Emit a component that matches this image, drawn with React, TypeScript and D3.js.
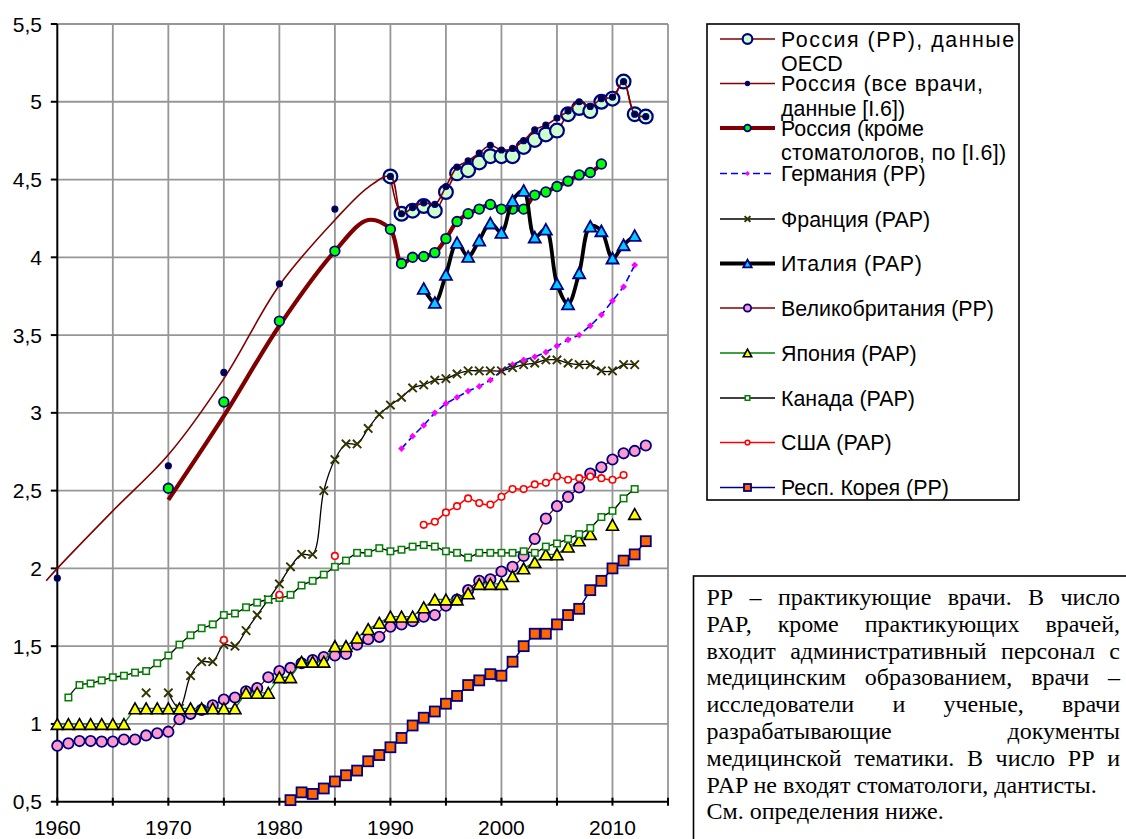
import React, { useMemo } from 'react';
import * as d3 from 'd3';

// ---------------- DATA ----------------
const xTickYears = [1960, 1970, 1980, 1990, 2000, 2010];
const yTickValues = [0.5, 1, 1.5, 2, 2.5, 3, 3.5, 4, 4.5, 5, 5.5];

// Russia (PP), OECD data
const ruOecdYears = d3.range(1990, 2014);
const ruOecdValues = [4.52, 4.28, 4.30, 4.33, 4.30, 4.42, 4.54, 4.56, 4.61, 4.65, 4.65, 4.65, 4.71, 4.755, 4.79, 4.815, 4.92, 4.96, 4.94, 5.0, 5.02, 5.13, 4.92, 4.905];

// Russia (all doctors, [I.6])
const ruAllYears = [1960, 1970, 1975, 1980, 1985, ...d3.range(1990, 2014)];
const ruAllValues = [1.937, 2.66, 3.26, 3.83, 4.31, 4.52, 4.28, 4.32, 4.35, 4.34, 4.455, 4.58, 4.62, 4.67, 4.72, 4.69, 4.70, 4.75, 4.82, 4.85, 4.895, 4.94, 5.0, 4.97, 5.02, 5.03, 5.13, 4.92, 4.905];
// smoothed trend line of all doctors before 1990
const ruAllTrendYears = [1959, 1960, 1965, 1970, 1975, 1980, 1985, 1988];
const ruAllTrendValues = [1.92, 2.0, 2.37, 2.73, 3.22, 3.82, 4.24, 4.45];

// Russia (excluding dentists, [I.6])
const ruExYears = [1970, 1975, 1980, 1985, ...d3.range(1990, 2010)];
const ruExValues = [2.515, 3.07, 3.59, 4.04, 4.18, 3.96, 4.00, 4.005, 4.03, 4.12, 4.23, 4.28, 4.31, 4.34, 4.31, 4.31, 4.31, 4.40, 4.42, 4.455, 4.49, 4.53, 4.545, 4.60];
const ruExTrendYears = [1970, 1975, 1980, 1985, 1988];
const ruExTrendValues = [2.44, 2.98, 3.56, 4.04, 4.24];

// Germany (PP)
const deYears = d3.range(1991, 2013);
const deValues = [2.77, 2.85, 2.92, 3.0, 3.06, 3.10, 3.14, 3.17, 3.21, 3.27, 3.31, 3.34, 3.36, 3.39, 3.43, 3.47, 3.50, 3.56, 3.63, 3.72, 3.81, 3.95];

// France (PAP)
const frYears = [1968, ...d3.range(1970, 2013)];
const frValues = [1.20, 1.20, 1.10, 1.31, 1.40, 1.40, 1.51, 1.50, 1.60, 1.70, 1.80, 1.90, 2.01, 2.09, 2.09, 2.50, 2.70, 2.80, 2.80, 2.90, 2.99, 3.05, 3.10, 3.16, 3.18, 3.21, 3.22, 3.25, 3.27, 3.27, 3.27, 3.27, 3.29, 3.31, 3.32, 3.34, 3.34, 3.32, 3.31, 3.31, 3.27, 3.27, 3.31, 3.31];

// Italy (PAP)
const itYears = d3.range(1993, 2013);
const itValues = [3.80, 3.71, 3.89, 4.095, 4.005, 4.11, 4.22, 4.16, 4.365, 4.43, 4.13, 4.18, 3.83, 3.70, 3.90, 4.20, 4.17, 3.995, 4.08, 4.14];

// United Kingdom (PP)
const ukYears = d3.range(1960, 2014);
const ukValues = [0.86, 0.875, 0.89, 0.89, 0.886, 0.886, 0.90, 0.90, 0.926, 0.94, 0.95, 1.03, 1.065, 1.09, 1.12, 1.157, 1.17, 1.21, 1.23, 1.30, 1.34, 1.36, 1.39, 1.41, 1.43, 1.44, 1.45, 1.51, 1.545, 1.56, 1.625, 1.64, 1.66, 1.69, 1.70, 1.76, 1.80, 1.86, 1.92, 1.93, 1.98, 2.01, 2.08, 2.19, 2.32, 2.40, 2.46, 2.52, 2.61, 2.65, 2.70, 2.74, 2.755, 2.79];

// Japan (PAP)
const jpYears = [...d3.range(1960, 2009), 2010, 2012];
const jpValues = [1.0, 1.0, 1.0, 1.0, 1.0, 1.0, 1.0, 1.1, 1.1, 1.1, 1.1, 1.1, 1.1, 1.1, 1.1, 1.1, 1.1, 1.2, 1.2, 1.2, 1.3, 1.3, 1.4, 1.4, 1.4, 1.5, 1.5, 1.555, 1.61, 1.65, 1.69, 1.69, 1.69, 1.75, 1.80, 1.80, 1.80, 1.84, 1.90, 1.90, 1.90, 1.95, 2.00, 2.04, 2.09, 2.09, 2.14, 2.18, 2.22, 2.28, 2.35];

// Canada (PAP)
const caYears = d3.range(1961, 2013);
const caValues = [1.17, 1.25, 1.26, 1.28, 1.30, 1.31, 1.33, 1.34, 1.39, 1.44, 1.51, 1.57, 1.615, 1.64, 1.70, 1.71, 1.75, 1.78, 1.80, 1.81, 1.83, 1.89, 1.92, 1.96, 2.01, 2.05, 2.10, 2.10, 2.13, 2.11, 2.12, 2.14, 2.15, 2.14, 2.11, 2.10, 2.07, 2.10, 2.10, 2.10, 2.10, 2.11, 2.10, 2.14, 2.16, 2.19, 2.22, 2.26, 2.33, 2.37, 2.45, 2.51];

// USA (PAP)
const usYears = [1975, 1980, 1985, ...d3.range(1993, 2012)];
const usValues = [1.54, 1.83, 2.08, 2.28, 2.30, 2.36, 2.40, 2.45, 2.42, 2.41, 2.46, 2.51, 2.51, 2.54, 2.55, 2.59, 2.57, 2.58, 2.59, 2.58, 2.57, 2.60];

// Rep. of Korea (PP)
const krYears = d3.range(1981, 2014);
const krValues = [0.51, 0.56, 0.55, 0.585, 0.63, 0.67, 0.70, 0.76, 0.80, 0.85, 0.91, 0.99, 1.04, 1.08, 1.13, 1.18, 1.25, 1.28, 1.32, 1.31, 1.40, 1.50, 1.58, 1.58, 1.64, 1.70, 1.74, 1.86, 1.92, 2.00, 2.05, 2.09, 2.175];

const legendLabels = [
  ['Россия (PP), данные', 'OECD'],
  ['Россия (все врачи,', 'данные [I.6])'],
  ['Россия (кроме', 'стоматологов, по [I.6])'],
  ['Германия (PP)'],
  ['Франция (PAP)'],
  ['Италия (PAP)'],
  ['Великобритания (PP)'],
  ['Япония (PAP)'],
  ['Канада (PAP)'],
  ['США (PAP)'],
  ['Респ. Корея (PP)'],
];

const noteLines = [
  'PP – практикующие врачи. В число',
  'PAP, кроме практикующих врачей,',
  'входит административный персонал с',
  'медицинским образованием, врачи –',
  'исследователи и ученые, врачи',
  'разрабатывающие документы',
  'медицинской тематики. В число PP и',
  'PAP не входят стоматологи, дантисты.',
  'См. определения ниже.',
];
const noteJustified = [true, true, true, true, true, true, true, false, false];

// ---------------- STYLES ----------------
type Style = {
  line: string; lw: number; dash?: string; curve: 'smooth' | 'linear';
  marker: 'circle' | 'dot' | 'triangle' | 'diamond' | 'x' | 'square';
  size: number; fill: string; stroke: string; sw: number;
};

const S: Record<string, Style> = {
  ruOecd: { line: '#800000', lw: 1.6, curve: 'smooth', marker: 'circle', size: 6.9, fill: '#ccffcc', stroke: '#000080', sw: 2.2 },
  ruAll: { line: '#800000', lw: 1.6, curve: 'smooth', marker: 'dot', size: 3.0, fill: '#000033', stroke: '#000080', sw: 1.2 },
  ruEx: { line: '#800000', lw: 4.2, curve: 'smooth', marker: 'circle', size: 4.8, fill: '#00ff00', stroke: '#000080', sw: 1.8 },
  de: { line: '#0000ff', lw: 1.6, dash: '7,4', curve: 'linear', marker: 'diamond', size: 3.4, fill: '#ff00ff', stroke: 'none', sw: 0 },
  fr: { line: '#000000', lw: 1.3, curve: 'smooth', marker: 'x', size: 4.2, fill: 'none', stroke: '#333300', sw: 1.9 },
  it: { line: '#000000', lw: 3.8, curve: 'smooth', marker: 'triangle', size: 12, fill: '#00ccff', stroke: '#000080', sw: 1.8 },
  uk: { line: '#800000', lw: 1.3, curve: 'smooth', marker: 'circle', size: 5.2, fill: '#ff99cc', stroke: '#000080', sw: 1.8 },
  jp: { line: '#008000', lw: 1.3, curve: 'linear', marker: 'triangle', size: 12, fill: '#ffff00', stroke: '#000000', sw: 1.6 },
  ca: { line: '#000000', lw: 1.3, curve: 'smooth', marker: 'square', size: 6.5, fill: '#ffffff', stroke: '#008000', sw: 1.5 },
  us: { line: '#ff0000', lw: 1.5, curve: 'smooth', marker: 'circle', size: 3.3, fill: '#ffffff', stroke: '#ff0000', sw: 1.6 },
  kr: { line: '#000080', lw: 1.5, curve: 'linear', marker: 'square', size: 10, fill: '#ff6600', stroke: '#000080', sw: 1.8 },
};

const legendKeys = ['ruOecd', 'ruAll', 'ruEx', 'de', 'fr', 'it', 'uk', 'jp', 'ca', 'us', 'kr'];

// ---------------- LAYOUT ----------------
const PL = 57.3, PR = 668, PT = 24, PB = 801.7;
const x = d3.scaleLinear().domain([1960, 2015]).range([PL, PR]);
const y = d3.scaleLinear().domain([0.5, 5.5]).range([PB, PT]);

type P = { yr: number; v: number };
const pts = (ys: number[], vs: number[]): P[] => ys.map((yr, i) => ({ yr, v: vs[i] }));

function segments(p: P[]): P[][] {
  const out: P[][] = [];
  let cur: P[] = [];
  p.forEach((q, i) => {
    if (i > 0 && q.yr - p[i - 1].yr > 1) { out.push(cur); cur = []; }
    cur.push(q);
  });
  out.push(cur);
  return out.filter(s => s.length > 1);
}

function linePath(p: P[], st: Style) {
  const g = d3.line<P>().x(d => x(d.yr)).y(d => y(d.v))
    .curve(st.curve === 'smooth' ? d3.curveCatmullRom.alpha(0.5) : d3.curveLinear);
  return g(p) || '';
}

function Marker({ cx, cy, st, k = 1 }: { cx: number; cy: number; st: Style; k?: number }) {
  const s = st.size * k;
  switch (st.marker) {
    case 'circle':
    case 'dot':
      return <circle cx={cx} cy={cy} r={s} fill={st.fill} stroke={st.stroke} strokeWidth={st.sw} />;
    case 'triangle': {
      const h = s * 0.9;
      return <path d={`M${cx},${cy - h / 2}L${cx + s / 2},${cy + h / 2}L${cx - s / 2},${cy + h / 2}Z`} fill={st.fill} stroke={st.stroke} strokeWidth={st.sw} strokeLinejoin="miter" />;
    }
    case 'diamond':
      return <path d={`M${cx},${cy - s}L${cx + s},${cy}L${cx},${cy + s}L${cx - s},${cy}Z`} fill={st.fill} />;
    case 'x':
      return <path d={`M${cx - s},${cy - s}L${cx + s},${cy + s}M${cx - s},${cy + s}L${cx + s},${cy - s}`} stroke={st.stroke} strokeWidth={st.sw} fill="none" />;
    case 'square':
      return <rect x={cx - s / 2} y={cy - s / 2} width={s} height={s} fill={st.fill} stroke={st.stroke} strokeWidth={st.sw} />;
  }
  return null;
}

function Series({ data, st, lineData }: { data: P[]; st: Style; lineData?: P[] }) {
  const segs = lineData ? [lineData] : segments(data);
  return (
    <g>
      {segs.map((s, i) => (
        <path key={i} d={linePath(s, st)} fill="none" stroke={st.line} strokeWidth={st.lw} strokeDasharray={st.dash} strokeLinejoin="round" />
      ))}
      {data.map((d, i) => <Marker key={i} cx={x(d.yr)} cy={y(d.v)} st={st} />)}
    </g>
  );
}

const fmt = (v: number) => (Number.isInteger(v) ? `${v}` : v.toFixed(1).replace('.', ','));

const legendSpacing: Record<string, number> = {
  '0-0': 1.5, '1-0': 0.9, '2-1': 0.3, '5-0': 0.6,
};

export default function App() {
  const noteLayout = useMemo(() => {
    const font = "24px 'Liberation Serif'";
    const ctx = document.createElement('canvas').getContext('2d')!;
    ctx.font = font;
    const left = 706.5, right = 1120;
    return noteLines.map((line, i) => {
      const words = line.split(' ');
      if (!noteJustified[i] || words.length < 2) return [{ w: line, x: left }];
      const widths = words.map(w => ctx.measureText(w).width);
      const total = widths.reduce((a, b) => a + b, 0);
      const gap = (right - left - total) / (words.length - 1);
      let cx = left;
      return words.map((w, j) => { const o = { w, x: cx }; cx += widths[j] + gap; return o; });
    });
  }, []);

  const ruOecd = pts(ruOecdYears, ruOecdValues);
  const ruAll = pts(ruAllYears, ruAllValues);
  const ruAllLine = [...pts(ruAllTrendYears, ruAllTrendValues), ...ruAll.filter(p => p.yr >= 1990)];
  const ruEx = pts(ruExYears, ruExValues);
  const ruExLine = [...pts(ruExTrendYears, ruExTrendValues), ...ruEx.filter(p => p.yr >= 1990)];

  const gridYears = d3.range(1965, 2016, 5);
  const gridVals = yTickValues.slice(1);
  const tickYears = d3.range(1960, 2016, 5);

  const legendY = [39, 83.5, 128, 173.5, 219, 263.5, 308, 353, 398, 442.5, 487.5];

  return (
    <svg width={1126} height={839} style={{ position: 'absolute', left: 0, top: 0, background: '#fff' }}>
      <rect x={0} y={0} width={1126} height={839} fill="#fff" />
      {/* grid */}
      <g stroke="#969696" strokeWidth={1.8}>
        {gridYears.map(yr => <line key={yr} x1={x(yr)} x2={x(yr)} y1={PT} y2={PB} />)}
        {gridVals.map(v => <line key={v} x1={PL} x2={PR} y1={y(v)} y2={y(v)} />)}
      </g>
      {/* axes */}
      <g stroke="#000" strokeWidth={2}>
        <line x1={PL} x2={PL} y1={PT} y2={PB + 1} />
        <line x1={PL - 1} x2={PR + 1} y1={PB} y2={PB} />
        {yTickValues.map(v => <line key={v} x1={PL - 6.5} x2={PL} y1={y(v)} y2={y(v)} />)}
        {tickYears.map(yr => <line key={yr} x1={x(yr)} x2={x(yr)} y1={PB - 4} y2={PB + 4} />)}
      </g>
      <g fontFamily="'Liberation Sans', Arial, sans-serif" fontSize={21} fill="#000">
        {yTickValues.map(v => (
          <text key={v} x={42} y={y(v)} textAnchor="end" dominantBaseline="central">{fmt(v)}</text>
        ))}
        {xTickYears.map(yr => (
          <text key={yr} x={x(yr)} y={835} textAnchor="middle">{yr}</text>
        ))}
      </g>

      {/* series */}
      <Series data={ruOecd} st={S.ruOecd} />
      <Series data={ruAll} st={S.ruAll} lineData={ruAllLine} />
      <Series data={ruEx} st={S.ruEx} lineData={ruExLine} />
      <Series data={pts(deYears, deValues)} st={S.de} />
      <Series data={pts(frYears, frValues)} st={S.fr} />
      <Series data={pts(itYears, itValues)} st={S.it} />
      <Series data={pts(ukYears, ukValues)} st={S.uk} />
      <Series data={pts(jpYears, jpValues)} st={S.jp} />
      <Series data={pts(caYears, caValues)} st={S.ca} />
      <Series data={pts(usYears, usValues)} st={S.us} />
      <Series data={pts(krYears, krValues)} st={S.kr} />

      {/* legend */}
      <rect x={707} y={24} width={312} height={476} fill="#fff" stroke="#000" strokeWidth={1.6} />
      <g fontFamily="'Liberation Sans', Arial, sans-serif" fontSize={21.4} fill="#000">
        {legendKeys.map((k, i) => {
          const st = S[k];
          const ly = legendY[i];
          return (
            <g key={k}>
              <line x1={720} x2={775} y1={ly} y2={ly} stroke={st.line} strokeWidth={st.lw} strokeDasharray={st.dash} />
              <Marker cx={747.5} cy={ly} st={st} k={0.7} />
              {legendLabels[i].map((t, j) => (
                <text key={j} x={781} y={ly + 7.5 + j * 24.5} letterSpacing={legendSpacing[`${i}-${j}`] || 0}>{t}</text>
              ))}
            </g>
          );
        })}
      </g>

      {/* note box */}
      <rect x={693.5} y={576} width={450} height={300} fill="#fff" stroke="#000" strokeWidth={1.6} />
      <g fontFamily="'Liberation Serif', 'Times New Roman', serif" fontSize={24} fill="#000">
        {noteLayout.map((words, i) => (
          <text key={i} y={605 + i * 26.8}>
            {words.map((w, j) => <tspan key={j} x={w.x}>{w.w}</tspan>)}
          </text>
        ))}
      </g>
    </svg>
  );
}
